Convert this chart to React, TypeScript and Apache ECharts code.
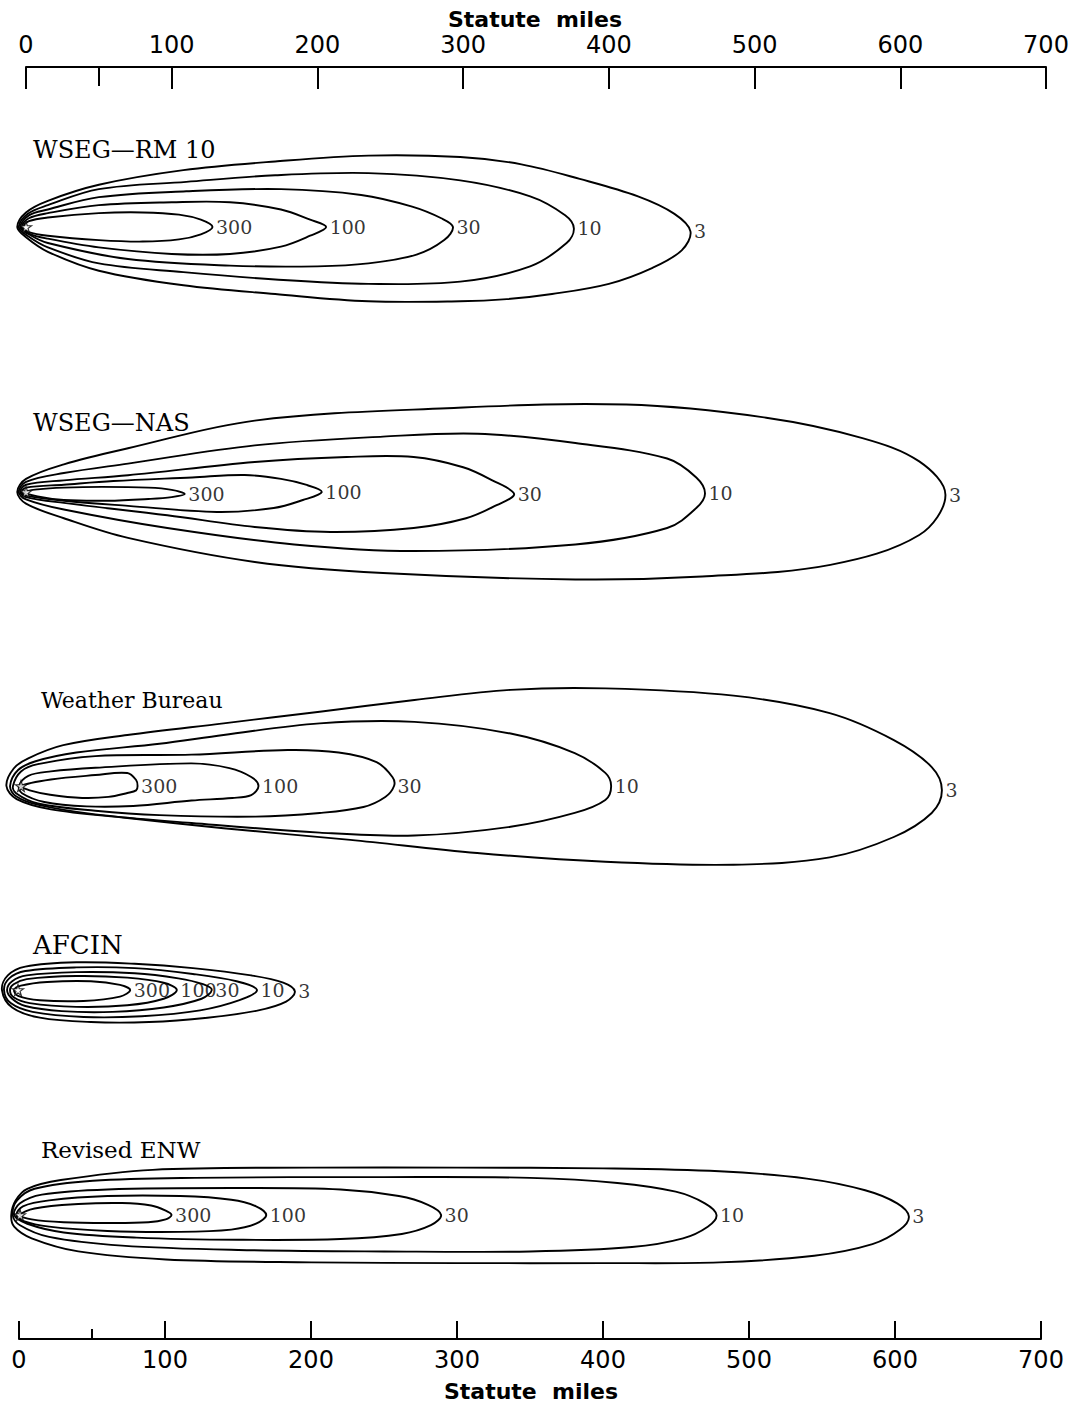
import React, { useEffect, useRef } from "react";
import * as echarts from "echarts";

// ---------- data (miles downwind, miles crosswind) ----------
const LEVELS = ["300", "100", "30", "10", "3"];
const PANEL_TITLES = ["WSEG\u2014RM 10", "WSEG\u2014NAS", "Weather Bureau", "AFCIN", "Revised ENW"];
const AXIS_TITLE = "Statute  miles";
const AXIS_MAX = 700;
const AXIS_STEP = 100;
const MINOR_STEP = 50;

const RM10_300 = [[-2,0],[2,4],[15,6.5],[50,9.5],[80,10],[105,8.5],[120,5],[128,0],[120,-5],[105,-8.5],[80,-10],[50,-9],[15,-6],[2,-3.5]];
const RM10_100 = [[-3,0],[2,6],[15,9.5],[50,15],[100,17],[140,17],[175,12],[195,5],[206,0],[195,-6],[175,-13.5],[140,-18.5],[100,-18.5],[50,-14],[15,-8],[2,-4.5]];
const RM10_30 = [[-4,0],[2,8],[15,12],[50,20.5],[110,24.5],[175,26],[230,22],[265,14],[285,6],[293,0],[287,-9],[268,-19],[235,-25],[200,-27],[140,-26.5],[70,-22],[15,-11],[2,-5]];
const RM10_10 = [[-5,0],[1,9],[15,15],[50,26],[110,31],[171,35.5],[235,37],[298,32],[346,21],[370,8],[376,-1],[371,-11],[346,-27],[298,-37.5],[235,-39],[171,-36],[108,-31],[50,-25],[15,-14],[1,-6]];
const RM10_3 = [[-6,0],[0,10],[15,18],[50,29],[108,39],[171,45],[235,49],[298,48],[340,43],[380,33],[420,21],[445,9],[456,-3],[450,-16],[430,-28],[400,-39],[361,-46],[330,-49.5],[298,-51],[235,-51],[171,-46],[108,-40],[50,-30],[15,-17],[0,-7]];

const NAS_300 = [[-1,0],[8,1.8],[26,3],[52,3.5],[84,3],[100,1.5],[109,-1.4],[100,-3.5],[84,-4.8],[56,-6],[26,-5.5],[8,-3]];
const NAS_100 = [[-3,0],[0,3],[26,5],[60,7.5],[114,10],[150,11.7],[175,9],[192,5],[203,0],[190,-5.5],[170,-11],[131,-13.7],[70,-9.5],[26,-6],[0,-2.5]];
const NAS_30 = [[-4,0],[0,5],[26,8],[70,11.5],[157,20.6],[220,24],[266,24],[300,17],[320,8],[335,-1.4],[323,-9],[302,-18],[266,-24.7],[209,-27.4],[157,-24],[97,-16],[26,-7.5],[0,-3.5]];
const NAS_10 = [[-5,0],[0,7],[26,13],[70,19.5],[157,32],[245,38],[310,40],[377,33.6],[440,23],[460,10],[466,-1],[460,-11],[440,-24.7],[377,-36],[266,-40.5],[184,-36],[97,-24.7],[26,-12],[0,-5]];
const NAS_3 = [[-6,0],[0,9],[26,19],[70,30],[157,49],[289,57.5],[412,60],[508,51],[574,37],[613,21],[631,-2],[613,-29.5],[552,-50],[464,-58],[377,-60],[245,-55.6],[157,-48],[70,-31.5],[26,-18],[0,-8]];

const WB_300 = [[0,0],[20.5,4.5],[51,7.5],[73,8.9],[79,4.1],[80,0],[79,-3],[73,-4.8],[60,-7.5],[42,-8.2],[20,-6],[6,-3]];
const WB_100 = [[-1.4,0],[5,7],[20.5,10],[51,12.5],[117,15.5],[143,12.3],[158,6.2],[163,0],[158,-6.2],[145,-8.2],[117,-10],[77,-13.7],[45,-14],[16,-11],[0.7,-5]];
const WB_30 = [[-5.5,0],[0,10],[11.6,15],[51,20.5],[117,21.5],[183,24.7],[218,23],[244,16.4],[255,6],[256,0],[250,-7.5],[235,-14.4],[205,-18.5],[161,-21],[95,-20],[51,-17],[11.6,-12],[-3.4,-5]];
const WB_10 = [[-7.5,0],[-2,11],[10,17],[38,23],[95,29],[139,35],[205,43],[270,44],[336,36],[380,22.6],[401,9],[405,0],[401,-9.6],[380,-18.5],[336,-28],[270,-34],[205,-32],[117,-25.4],[51,-19.5],[12,-13],[-3.4,-7]];
const WB_3 = [[-10,0],[-5,12],[5,19],[29,28],[73,35],[139,43],[205,51],[270,59],[336,66],[401,67],[489,62],[555,50],[599,31.5],[625,13],[632,-3],[625,-18.5],[599,-35],[555,-49],[489,-54],[401,-52],[313,-46],[226,-37],[139,-29],[73,-22],[20.5,-16],[-3,-9]];

const AF_300 = [[-2.7,0],[2,3],[20,5.5],[50,6],[70,3.5],[77,0],[70,-4.5],[45,-7.5],[15,-7],[0,-4]];
const AF_100 = [[-5.5,0],[-3,4],[6,7.5],[40,9.6],[75,8.5],[100,5],[109,0],[100,-6],[75,-10.5],[40,-11.6],[8,-9],[-3,-5]];
const AF_30 = [[-7.5,0],[-4,6],[6,10],[40,12.3],[80,11.5],[110,8],[127,4],[133,0],[126,-6],[100,-12],[65,-15],[30,-14.5],[5,-11],[-4,-6]];
const AF_10 = [[-9.6,0],[-6,8],[5,13],[40,15.5],[80,15],[120,11],[150,6],[164,0],[152,-7],[125,-14],[85,-18],[45,-18.5],[10,-15],[-5,-9]];
const AF_3 = [[-11,0],[-7,10],[5,16],[40,19],[80,18],[120,15],[160,10],[182,5],[190,-1],[184,-8],[165,-14],[130,-19],[90,-22],[50,-22],[15,-19],[-4,-12]];

const ENW_300 = [[0,0],[10,4.5],[40,7.5],[70,8.2],[90,6.5],[100,3],[104,0],[100,-3],[88,-5],[60,-5.5],[30,-5],[8,-3]];
const ENW_100 = [[-2.5,0],[2,6],[20,10],[60,13],[110,13],[145,10.5],[162,6],[169,0],[162,-6],[145,-10],[110,-11.6],[60,-11],[20,-8],[2,-4]];
const ENW_30 = [[-4,0],[0,8],[15,14],[60,17.5],[150,18.5],[220,17.5],[260,13],[280,7],[289,0],[282,-7],[262,-13],[220,-16.5],[150,-17],[80,-15.5],[30,-12],[5,-6]];
const ENW_10 = [[-5,0],[-2,10],[10,18],[50,23.5],[120,25.5],[250,26],[350,25.5],[410,22],[450,16],[470,8],[478,0],[472,-8],[455,-16],[420,-22],[350,-25],[250,-25],[150,-24],[70,-21],[20,-15],[0,-7]];
const ENW_3 = [[-6,0],[-3,10],[5,18],[28,24],[91,31],[200,32.5],[300,32.5],[400,32],[480,30],[540,25],[580,17],[602,8],[610,-1],[604,-10],[585,-20],[545,-28],[480,-32.5],[400,-33],[300,-33],[200,-32.5],[100,-30.5],[40,-25],[8,-16],[-4,-8]];

const PANEL_CONTOURS = [
  [RM10_300, RM10_100, RM10_30, RM10_10, RM10_3],
  [NAS_300, NAS_100, NAS_30, NAS_10, NAS_3],
  [WB_300, WB_100, WB_30, WB_10, WB_3],
  [AF_300, AF_100, AF_30, AF_10, AF_3],
  [ENW_300, ENW_100, ENW_30, ENW_10, ENW_3],
];

// ---------- layout ----------
const K = 1020 / 700; // px per mile
const X_MIN = -12;
const Y_HALF = 70;
const PANEL_ORIGIN_X = [26, 26, 21, 18, 20];
const PANEL_CENTER_Y = [227, 492, 786, 990, 1215];
const TITLE_POS = [[33, 150], [33, 423], [41, 700], [33, 945], [41, 1150]];
const TITLE_SIZE = [24, 24, 22, 26, 23];
const FONT_AXIS = '"DejaVu Sans", sans-serif';
const FONT_SERIF = '"DejaVu Serif", serif';
const STAR = "path://M50,0 L61,35 L98,35 L68,57 L79,91 L50,70 L21,91 L32,57 L2,35 L39,35 Z";

function tipOf(pts: number[][]) {
  let best = pts[0];
  for (const p of pts) if (p[0] > best[0]) best = p;
  return best;
}

function contourRenderItem(params: any, api: any) {
  if (params.dataIndexInside !== 0) return null;
  const n = params.dataInsideLength;
  const pts: number[][] = [];
  for (let j = 0; j < n; j++) pts.push(api.coord([api.value(0, j), api.value(1, j)]));
  return {
    type: "polygon",
    shape: { points: pts, smooth: 0.35 },
    style: { fill: "none", stroke: "#000", lineWidth: 1.9 },
  };
}

function buildOption() {
  const grid: any[] = [];
  const xAxis: any[] = [];
  const yAxis: any[] = [];
  const series: any[] = [];
  const lineCol = "#000";

  // top axis
  grid.push({ left: 26, top: 67, width: 1020, height: 30 });
  xAxis.push({
    gridIndex: 0, type: "value", position: "top", min: 0, max: AXIS_MAX, interval: AXIS_STEP,
    axisLine: { show: true, onZero: false, lineStyle: { color: lineCol, width: 2 } },
    axisTick: { show: true, inside: true, length: 22, lineStyle: { color: lineCol, width: 2 } },
    axisLabel: { margin: 10, fontSize: 24, color: lineCol, fontFamily: FONT_AXIS },
    splitLine: { show: false },
  });
  yAxis.push({ gridIndex: 0, type: "value", show: false, min: 0, max: 1 });
  // top minor tick
  grid.push({ left: 26, top: 67, width: AXIS_STEP * K, height: 30 });
  xAxis.push({
    gridIndex: 1, type: "value", position: "top", min: 0, max: AXIS_STEP, interval: MINOR_STEP,
    axisLine: { show: false, onZero: false },
    axisTick: { show: true, inside: true, length: 19, lineStyle: { color: lineCol, width: 2 } },
    axisLabel: { show: false }, splitLine: { show: false },
  });
  yAxis.push({ gridIndex: 1, type: "value", show: false, min: 0, max: 1 });
  // bottom axis
  const KB = 1022 / 700;
  grid.push({ left: 19, top: 1299, width: 1022, height: 40 });
  xAxis.push({
    gridIndex: 2, type: "value", position: "bottom", min: 0, max: AXIS_MAX, interval: AXIS_STEP,
    axisLine: { show: true, onZero: false, lineStyle: { color: lineCol, width: 2 } },
    axisTick: { show: true, inside: true, length: 18, lineStyle: { color: lineCol, width: 2 } },
    axisLabel: { margin: 9, fontSize: 24, color: lineCol, fontFamily: FONT_AXIS },
    splitLine: { show: false },
  });
  yAxis.push({ gridIndex: 2, type: "value", show: false, min: 0, max: 1 });
  grid.push({ left: 19, top: 1299, width: AXIS_STEP * KB, height: 40 });
  xAxis.push({
    gridIndex: 3, type: "value", position: "bottom", min: 0, max: AXIS_STEP, interval: MINOR_STEP,
    axisLine: { show: false, onZero: false },
    axisTick: { show: true, inside: true, length: 10, lineStyle: { color: lineCol, width: 2 } },
    axisLabel: { show: false }, splitLine: { show: false },
  });
  yAxis.push({ gridIndex: 3, type: "value", show: false, min: 0, max: 1 });

  const graphic: any[] = [
    { type: "text", x: 535, y: 19, style: { text: AXIS_TITLE, fill: "#000", font: `bold 22px ${FONT_AXIS}`, align: "center", verticalAlign: "middle" } },
    { type: "text", x: 531, y: 1391, style: { text: AXIS_TITLE, fill: "#000", font: `bold 22px ${FONT_AXIS}`, align: "center", verticalAlign: "middle" } },
  ];

  PANEL_CONTOURS.forEach((contours, p) => {
    const gi = 4 + p;
    const ox = PANEL_ORIGIN_X[p];
    const cy = PANEL_CENTER_Y[p];
    grid.push({
      left: ox + X_MIN * K, top: cy - Y_HALF * K,
      width: (AXIS_MAX - X_MIN) * K, height: 2 * Y_HALF * K,
    });
    xAxis.push({ gridIndex: gi, type: "value", show: false, min: X_MIN, max: AXIS_MAX });
    yAxis.push({ gridIndex: gi, type: "value", show: false, min: -Y_HALF, max: Y_HALF });
    contours.forEach((c, i) => {
      series.push({
        type: "custom", name: `${PANEL_TITLES[p]} ${LEVELS[i]}`,
        xAxisIndex: gi, yAxisIndex: gi, silent: true,
        data: c, encode: { x: 0, y: 1 },
        renderItem: contourRenderItem,
        clip: false,
      });
    });
    series.push({
      type: "scatter", xAxisIndex: gi, yAxisIndex: gi, silent: true,
      symbolSize: 1, itemStyle: { color: "rgba(0,0,0,0)" },
      data: contours.map((c, i) => {
        const t = tipOf(c);
        return { value: [t[0], t[1]], label: { formatter: LEVELS[i] } };
      }),
      label: { show: true, position: "right", distance: 3, fontSize: 19, fontFamily: FONT_SERIF, color: "#000" },
      z: 5,
    });
    series.push({
      type: "scatter", xAxisIndex: gi, yAxisIndex: gi, silent: true,
      symbol: STAR, symbolSize: 11,
      itemStyle: { color: "#fff", borderColor: "#000", borderWidth: 1.2 },
      data: [[0, 0]], z: 6,
    });
    graphic.push({
      type: "text", x: TITLE_POS[p][0], y: TITLE_POS[p][1],
      style: { text: PANEL_TITLES[p], fill: "#000", font: `${TITLE_SIZE[p]}px ${FONT_SERIF}`, align: "left", verticalAlign: "middle" },
    });
  });

  return {
    animation: false,
    backgroundColor: "#fff",
    grid, xAxis, yAxis, series, graphic,
  };
}

export default function App() {
  const ref = useRef<HTMLDivElement>(null);
  useEffect(() => {
    const chart = echarts.init(ref.current!, null, { renderer: "svg" });
    chart.setOption(buildOption() as any);
    return () => chart.dispose();
  }, []);
  return (
    <div
      ref={ref}
      style={{ position: "absolute", left: 0, top: 0, width: 1076, height: 1407, background: "#fff" }}
    />
  );
}
